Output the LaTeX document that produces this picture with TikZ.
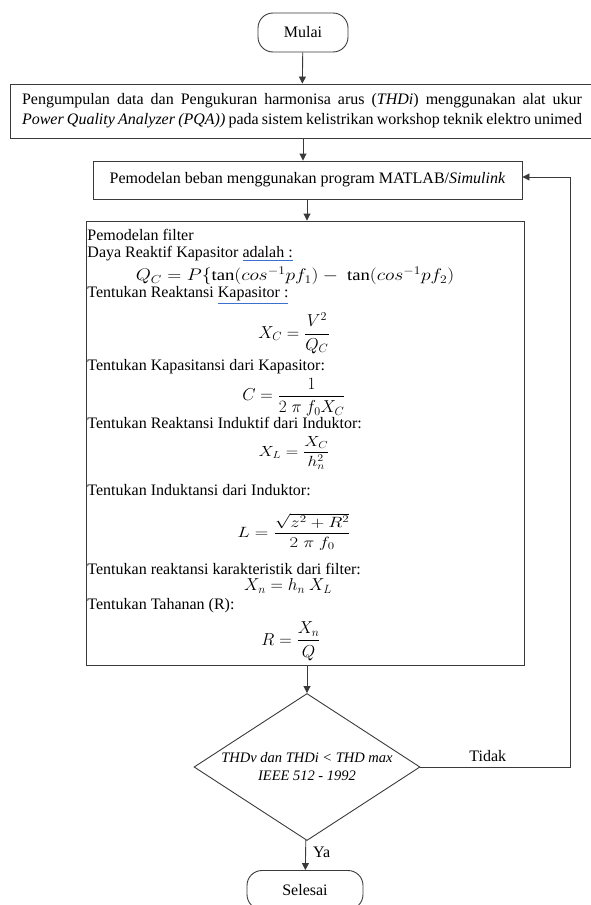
\documentclass[tikz,border=0pt]{standalone}
\usepackage{amsmath}
\usepackage{fontspec}
\setmainfont{Liberation Serif}
\usetikzlibrary{arrows.meta, positioning, shapes.geometric}
\definecolor{cline}{HTML}{3A3A3A}
\definecolor{cspell}{HTML}{3B6FD0}
\newcommand\spellmark[1]{\textcolor{cspell}{\underline{\textcolor{black}{#1}}}}
\tikzset{
  every picture/.style={line width=0.9pt},
  box/.style={draw=cline, rectangle, inner sep=0pt, align=center, font=\fontsize{16}{20}\selectfont},
  term/.style={draw=cline, rounded corners=15pt, minimum width=#1, minimum height=39pt, font=\fontsize{16}{20}\selectfont},
  decision/.style={draw=cline, diamond, aspect=1.54, inner sep=0pt, minimum width=226pt, minimum height=147pt,
    align=center, font=\fontsize{14.5}{18}\selectfont\itshape},
  arrow/.style={-{Triangle[length=7pt, width=7pt]}, draw=cline},
  txt/.style={anchor=west, inner sep=0pt, font=\fontsize{16}{18}\selectfont},
  eq/.style={inner sep=0pt, font=\fontsize{16.5}{20}\selectfont},
  note/.style={inner sep=0pt, font=\fontsize{16}{18}\selectfont},
}

\begin{document}
\begin{tikzpicture}[x=1pt, y=-1pt]
  \useasboundingbox (0,0) rectangle (591,905);
  % flow of the filter design, top to bottom
  \node[term=90pt] (start) at (303,32.5) {Mulai};
  \node[box, minimum width=584pt, minimum height=54pt, text width=560pt, inner xsep=12pt, align=justify]
    (collect) at (302,111) {Pengumpulan data dan Pengukuran harmonisa arus (\textit{THDi}) menggunakan alat ukur
    \textit{Power Quality Analyzer (PQA))} pada sistem kelistrikan workshop teknik elektro unimed};
  \node[box, minimum width=429pt, minimum height=38pt] (model) at (307.5,180)
    {Pemodelan beban menggunakan program MATLAB/\textit{Simulink}};
  \node[box, minimum width=438pt, minimum height=444pt] (filter) at (305,443) {};

  \foreach \y/\txt [count=\i] in {235/Pemodelan filter, 254/Daya Reaktif Kapasitor \spellmark{adalah :},
      295/Tentukan Reaktansi \spellmark{Kapasitor :}, 367/Tentukan Kapasitansi dari Kapasitor:,
      423/Tentukan Reaktansi Induktif dari Induktor:, 490/Tentukan Induktansi dari Induktor:,
      569/Tentukan reaktansi karakteristik dari filter:, 606/Tentukan Tahanan (R):}
    \node[txt] (line\i) at (87,\y) {\txt};

  \node[eq] (eqQ) at (295,276) {\scalebox{1.13}[0.97]{$Q_C = P\{\tan(cos^{-1}pf_1) -\ \tan(cos^{-1}pf_2)$}};
  \node[eq] (eqXC) at (294,333) {$X_C = \dfrac{V^2}{Q_C}$};
  \node[eq] (eqC) at (294,397) {$C = \dfrac{1}{2\;\pi\ f_0X_C}$};
  \node[eq] (eqXL) at (294,453) {\scalebox{1}[0.85]{$X_L = \dfrac{X_C}{h_n^2}$}};
  \node[eq] (eqL) at (294,532) {\scalebox{1.08}[0.86]{$L = \dfrac{\sqrt{z^2+R^2}}{2\;\pi\ f_0}$}};
  \node[eq] (eqXn) at (288,586) {$X_n = h_n\ X_L$};
  \node[eq] (eqR) at (291,641) {$R = \dfrac{X_n}{Q}$};

  \node[decision] (check) at (307,767) {THDv dan THDi < THD max\\IEEE 512 - 1992};
  \node[term=116pt] (stop) at (305,890) {Selesai};

  \draw[arrow] (start) -- (collect);
  \draw[arrow] (collect.south -| start) -- (model.north -| start);
  \draw[arrow] (model.south -| check) -- (filter.north -| check);
  \draw[arrow] (filter.south -| check) -- (check);
  \draw[arrow] (check) -- node[note, right=7pt, pos=0.4] (yes) {Ya} (stop);

  \coordinate (back) at (570,767);
  \draw[arrow] (check.east) -- node[note, above=5pt, pos=0.45] (no) {Tidak} (back) |- ([yshift=3pt]model.east);
\end{tikzpicture}
\end{document}
